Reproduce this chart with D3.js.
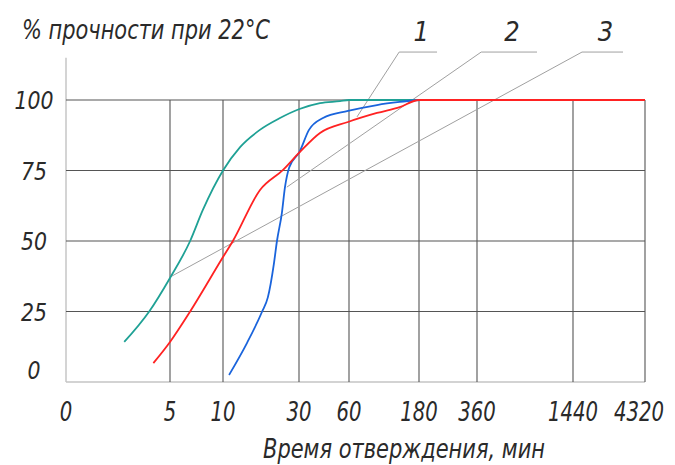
<!DOCTYPE html>
<html>
<head>
<meta charset="utf-8">
<script src="https://cdn.jsdelivr.net/npm/d3@7"></script>
<style>
  body { margin: 0; background: #fff; }
  text { font-family: "Liberation Sans Narrow", "DejaVu Sans Condensed", sans-serif; font-style: italic; fill: #2a2a2a; }
</style>
</head>
<body>
<svg id="chart" width="675" height="465"></svg>
<script>
// tick values
const xTicks = [0, 5, 10, 30, 60, 180, 360, 1440, 4320];
const yTicks = [0, 25, 50, 75, 100];

// curves: time (min) -> % strength
const tealT = [2.8, 4.0, 5, 6.9, 8.1, 10, 14.5, 19.7, 25, 30.3, 42.6, 54.6, 60, 180];
const tealV = [14.2, 25, 36.9, 50, 61, 75, 83.3, 89.4, 93.6, 96.8, 98.9, 99.6, 100, 100];

const redT = [4.2, 5, 6.9, 10, 12.6, 19.7, 25.8, 30.3, 42.6, 59.4, 108, 147, 180, 360, 1440, 4320];
const redV = [6.7, 14.2, 25, 44.3, 50, 68, 75.2, 81.4, 88.3, 92.2, 95.4, 97.5, 100, 100, 100, 100];

const blueT = [11.6, 16.3, 20.3, 21.8, 23.4, 24.2, 25.5, 26.3, 27.4, 30.3, 36, 44.4, 59.4, 108, 147, 180];
const blueV = [2.5, 13.8, 25, 30, 42, 50, 60, 69, 76, 81.6, 89.4, 93.6, 96.1, 98.2, 99.3, 100];

// callouts: label, tip (t, v), elbow t, end t (elbow/end sit at 117 %)
const calloutLabels = ["1", "2", "3"];
const calloutTipT = [73.7, 26.8, 5];
const calloutTipV = [94, 69.1, 37.2];
const calloutElbowT = [146, 407, 1800];
const calloutEndT = [236, 1035, 3440];
const calloutV = 117;

const title = "% прочности при 22°С";
const xTitle = "Время отверждения, мин";

const svg = d3.select("#chart");

// uneven time axis, as in the drawing
const x = d3.scaleLinear()
  .domain(xTicks)
  .range([66, 170, 223, 299, 349, 419, 477, 573, 645]);
const y = d3.scaleLinear().domain([0, 100]).range([382, 100]);

// frame (light)
svg.append("line")
  .attr("x1", x(0)).attr("x2", x(0))
  .attr("y1", y(0)).attr("y2", y(115))
  .attr("stroke", "#bdbdbd").attr("stroke-width", 1.3);
svg.append("line")
  .attr("x1", x(0)).attr("x2", x(4320))
  .attr("y1", y(0)).attr("y2", y(0))
  .attr("stroke", "#c4c4c4").attr("stroke-width", 1.3);

// grid
svg.append("g").selectAll("line")
  .data(yTicks.filter(d => d > 0))
  .join("line")
  .attr("x1", x(0)).attr("x2", x(4320))
  .attr("y1", d => y(d)).attr("y2", d => y(d))
  .attr("stroke", "#555").attr("stroke-width", 1.1);
svg.append("g").selectAll("line")
  .data(xTicks.filter(d => d > 0))
  .join("line")
  .attr("x1", d => x(d)).attr("x2", d => x(d))
  .attr("y1", y(0)).attr("y2", y(100))
  .attr("stroke", "#555").attr("stroke-width", 1.1);

// tick labels
svg.append("g").selectAll("text")
  .data(yTicks)
  .join("text")
  .attr("x", 34)
  .attr("y", d => Math.min(y(d), y(0) - 12))
  .attr("dy", "0.36em")
  .attr("text-anchor", "middle")
  .attr("font-size", 25)
  .attr("textLength", d => String(d).length * 13)
  .attr("lengthAdjust", "spacingAndGlyphs")
  .text(d => d);
svg.append("g").selectAll("text")
  .data(xTicks)
  .join("text")
  .attr("x", d => d === 4320 ? x(d) - 6 : x(d))
  .attr("y", 421)
  .attr("text-anchor", "middle")
  .attr("font-size", 26)
  .attr("textLength", d => String(d).length * 12.5)
  .attr("lengthAdjust", "spacingAndGlyphs")
  .text(d => d);

svg.append("text")
  .attr("x", 22).attr("y", 39)
  .attr("font-size", 27)
  .attr("textLength", 248)
  .attr("lengthAdjust", "spacingAndGlyphs")
  .text(title);
svg.append("text")
  .attr("x", 263).attr("y", 458)
  .attr("font-size", 26)
  .attr("textLength", 282)
  .attr("lengthAdjust", "spacingAndGlyphs")
  .text(xTitle);

// callout leaders
calloutLabels.forEach((lab, i) => {
  const pts = [
    [x(calloutTipT[i]), y(calloutTipV[i])],
    [x(calloutElbowT[i]), y(calloutV)],
    [x(calloutEndT[i]), y(calloutV)]
  ];
  svg.append("path")
    .attr("d", d3.line()(pts))
    .attr("fill", "none")
    .attr("stroke", "#a0a0a0")
    .attr("stroke-width", 1);
  svg.append("text")
    .attr("x", (pts[1][0] + pts[2][0]) / 2 + 3)
    .attr("y", 41)
    .attr("text-anchor", "middle")
    .attr("font-size", 27)
    .text(lab);
});

// curves
const line = d3.line()
  .x(d => x(d[0]))
  .y(d => y(d[1]))
  .curve(d3.curveMonotoneX);

const series = [
  { t: tealT, v: tealV, color: "#1fa195" },
  { t: blueT, v: blueV, color: "#1a64dc" },
  { t: redT, v: redV, color: "#ff2222" }
];
series.forEach(s => {
  svg.append("path")
    .datum(s.t.map((t, i) => [t, s.v[i]]))
    .attr("d", line)
    .attr("fill", "none")
    .attr("stroke", s.color)
    .attr("stroke-width", 1.8);
});
</script>
</body>
</html>
